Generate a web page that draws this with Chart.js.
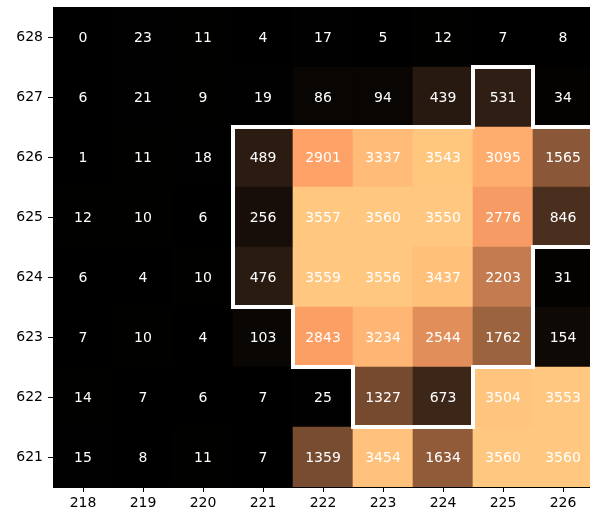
<!DOCTYPE html>
<html>
<head>
<meta charset="utf-8">
<script src="https://cdn.jsdelivr.net/npm/chart.js@4/dist/chart.umd.min.js"></script>
<style>
html, body { margin: 0; padding: 0; background: #fff; }
#wrap { width: 590px; height: 510px; }
</style>
</head>
<body>
<div id="wrap"><canvas id="heat" width="590" height="510"></canvas></div>
<script>
// Grid coordinates
const columns = [218, 219, 220, 221, 222, 223, 224, 225, 226];
const rows = [628, 627, 626, 625, 624, 623, 622, 621];

// Counts per cell, one line per row (top row first), one entry per column
const row628 = [0, 23, 11, 4, 17, 5, 12, 7, 8];
const row627 = [6, 21, 9, 19, 86, 94, 439, 531, 34];
const row626 = [1, 11, 18, 489, 2901, 3337, 3543, 3095, 1565];
const row625 = [12, 10, 6, 256, 3557, 3560, 3550, 2776, 846];
const row624 = [6, 4, 10, 476, 3559, 3556, 3437, 2203, 31];
const row623 = [7, 10, 4, 103, 2843, 3234, 2544, 1762, 154];
const row622 = [14, 7, 6, 7, 25, 1327, 673, 3504, 3553];
const row621 = [15, 8, 11, 7, 1359, 3454, 1634, 3560, 3560];
const counts = [row628, row627, row626, row625, row624, row623, row622, row621];

// Cells belonging to the outlined area, as [column, row]
const regionCells = [
  [225, 627],
  [221, 626], [222, 626], [223, 626], [224, 626], [225, 626], [226, 626],
  [221, 625], [222, 625], [223, 625], [224, 625], [225, 625], [226, 625],
  [221, 624], [222, 624], [223, 624], [224, 624], [225, 624],
  [222, 623], [223, 623], [224, 623], [225, 623],
  [223, 622], [224, 622]
];

// matplotlib "copper" colormap
function copper(t) {
  t = Math.max(0, Math.min(1, t));
  const r = Math.min(1, t / 0.809524);
  const g = 0.7812 * t;
  const b = 0.4975 * t;
  return `rgb(${Math.round(r * 255)},${Math.round(g * 255)},${Math.round(b * 255)})`;
}

const allValues = counts.flat();
const vmin = Math.min(...allValues);
const vmax = Math.max(...allValues);

const cells = [];
rows.forEach((r, ri) => {
  columns.forEach((c, ci) => {
    cells.push({ x: c, y: [r - 0.5, r + 0.5], v: counts[ri][ci] });
  });
});
const cellColors = cells.map(d => copper((d.v - vmin) / (vmax - vmin)));

const FONT = { family: 'DejaVu Sans', size: 14 };

// Value labels centred on each cell
const cellLabels = {
  id: 'cellLabels',
  afterDatasetsDraw(chart) {
    const ctx = chart.ctx;
    const meta = chart.getDatasetMeta(0);
    ctx.save();
    ctx.fillStyle = '#ffffff';
    ctx.font = `${FONT.size}px ${FONT.family}`;
    ctx.textAlign = 'center';
    ctx.textBaseline = 'middle';
    meta.data.forEach((el, i) => {
      const p = el.getCenterPoint();
      ctx.fillText(String(cells[i].v), p.x, p.y + 1);
    });
    ctx.restore();
  }
};

// White outline around the region
const regionOutline = {
  id: 'regionOutline',
  afterDatasetsDraw(chart) {
    const xs = chart.scales.x, ys = chart.scales.y;
    const inside = new Set(regionCells.map(([c, r]) => c + ':' + r));
    const has = (c, r) => inside.has(c + ':' + r);
    const ctx = chart.ctx;
    ctx.save();
    ctx.strokeStyle = '#ffffff';
    ctx.lineWidth = 4;
    ctx.lineCap = 'square';
    ctx.beginPath();
    regionCells.forEach(([c, r]) => {
      const x0 = xs.getPixelForValue(c - 0.5), x1 = xs.getPixelForValue(c + 0.5);
      const yT = ys.getPixelForValue(r + 0.5), yB = ys.getPixelForValue(r - 0.5);
      if (!has(c, r + 1)) { ctx.moveTo(x0, yT); ctx.lineTo(x1, yT); }
      if (!has(c, r - 1)) { ctx.moveTo(x0, yB); ctx.lineTo(x1, yB); }
      if (!has(c - 1, r)) { ctx.moveTo(x0, yT); ctx.lineTo(x0, yB); }
      if (!has(c + 1, r)) { ctx.moveTo(x1, yT); ctx.lineTo(x1, yB); }
    });
    ctx.stroke();
    ctx.restore();
  }
};

new Chart(document.getElementById('heat'), {
  type: 'bar',
  data: {
    datasets: [{
      data: cells,
      backgroundColor: cellColors,
      borderWidth: 0,
      barPercentage: 1,
      categoryPercentage: 1
    }]
  },
  options: {
    responsive: false,
    animation: false,
    events: [],
    layout: { padding: { top: 7, right: 0, left: 0, bottom: 0 } },
    plugins: { legend: { display: false }, tooltip: { enabled: false } },
    scales: {
      x: {
        type: 'linear',
        offset: false,
        min: columns[0] - 0.5,
        max: columns[columns.length - 1] + 0.45,
        afterBuildTicks: s => { s.ticks = columns.map(v => ({ value: v })); },
        afterFit: s => { s.height = 23; s.paddingLeft = 0; s.paddingRight = 0; },
        ticks: { color: '#000', font: FONT, padding: 3, maxRotation: 0, autoSkip: false,
                 callback: v => String(v) },
        grid: { offset: false, drawOnChartArea: false, drawTicks: true, tickLength: 5, tickColor: '#000' },
        border: { display: true, color: '#000', width: 1 }
      },
      y: {
        type: 'linear',
        offset: false,
        min: rows[rows.length - 1] - 0.5,
        max: rows[0] + 0.5,
        afterBuildTicks: s => { s.ticks = rows.map(v => ({ value: v })); },
        afterFit: s => { s.width = 53; s.paddingTop = 0; s.paddingBottom = 0; },
        ticks: { color: '#000', font: FONT, padding: 5, autoSkip: false,
                 callback: v => String(v) },
        grid: { offset: false, drawOnChartArea: false, drawTicks: true, tickLength: 5, tickColor: '#000' },
        border: { display: true, color: '#000', width: 1 }
      }
    }
  },
  plugins: [regionOutline, cellLabels]
});
</script>
</body>
</html>
